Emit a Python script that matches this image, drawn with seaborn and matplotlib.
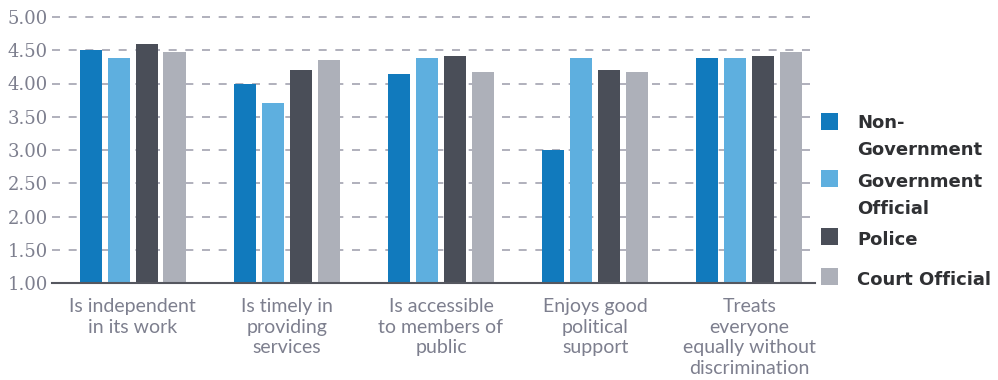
import matplotlib
matplotlib.use("Agg")
import matplotlib.pyplot as plt
import seaborn as sns
import pandas as pd
from matplotlib.patches import Rectangle

categories = [
    "Is independent\nin its work",
    "Is timely in\nproviding\nservices",
    "Is accessible\nto members of\npublic",
    "Enjoys good\npolitical\nsupport",
    "Treats\neveryone\nequally without\ndiscrimination",
]
series = ["Non-Government", "Government Official", "Police", "Court Official"]
legend_labels = ["Non-\nGovernment", "Government\nOfficial", "Police", "Court Official"]

non_government = [4.51, 3.99, 4.14, 3.00, 4.38]
government_official = [4.38, 3.70, 4.38, 4.38, 4.38]
police = [4.60, 4.20, 4.41, 4.20, 4.41]
court_official = [4.48, 4.35, 4.17, 4.17, 4.48]

y_ticks = [1.0, 1.5, 2.0, 2.5, 3.0, 3.5, 4.0, 4.5, 5.0]
y_tick_labels = ["1.00", "1.50", "2.00", "2.50", "3.00", "3.50", "4.00", "4.50", "5.00"]

colors = ["#117abd", "#5eafdf", "#4a4e58", "#adb0b9"]

rows = []
for name, vals in zip(series, [non_government, government_official, police, court_official]):
    for c, v in zip(categories, vals):
        rows.append({"category": c, "series": name, "value": v})
df = pd.DataFrame(rows)

sns.set_theme(style="white")
plt.rcParams["font.family"] = ["DejaVu Sans"]

W, H = 998, 380
fig = plt.figure(figsize=(W / 100, H / 100), dpi=100)
ax_left, ax_right = 52, 815
ax_bottom_px = 283
ymax = 5.05
px_per_unit = 66.5
ax_top_px = ax_bottom_px - (ymax - 1.0) * px_per_unit
ax = fig.add_axes([ax_left / W, 1 - ax_bottom_px / H, (ax_right - ax_left) / W, (ax_bottom_px - ax_top_px) / H])

sns.barplot(data=df, x="category", y="value", hue="series", order=categories,
            hue_order=series, palette=colors, saturation=1, width=0.726, gap=0.214,
            errorbar=None, legend=False, linewidth=0, ax=ax)

ax.set_xlim(-0.522, 4.425)
ax.set_ylim(1.0, ymax)
ax.set_axisbelow(True)
ax.set_yticks(y_ticks)
ax.set_yticklabels(y_tick_labels, family="DejaVu Serif", fontsize=13, color="#7d7f8e")
ax.yaxis.grid(True, color="#a3a3b0", linestyle=(0, (4.8, 5.2)), linewidth=1.2)
ax.xaxis.grid(False)
ax.tick_params(axis="y", length=0, pad=3)
ax.tick_params(axis="x", length=0, pad=11)
for lbl in ax.get_xticklabels():
    lbl.set_family(["Lato", "DejaVu Sans"])
    lbl.set_fontweight("normal")
    lbl.set_fontsize(14)
    lbl.set_color("#7d7f8e")
    lbl.set_linespacing(1.25)
ax.set_xlabel("")
ax.set_ylabel("")
for s in ["top", "right", "left"]:
    ax.spines[s].set_visible(False)
ax.spines["bottom"].set_color("#55575f")
ax.spines["bottom"].set_linewidth(1.5)

# legend (drawn manually in figure pixel coordinates)
sq_tops = [113, 170, 228, 268]
baselines = [128, 187, 245, 285]
for col, lab, top, base in zip(colors, legend_labels, sq_tops, baselines):
    fig.add_artist(Rectangle((821 / W, 1 - (top + 17) / H), 17 / W, 17 / H,
                             transform=fig.transFigure, facecolor=col, edgecolor="none"))
    fig.text(857 / W, 1 - base / H, lab.split("\n")[0], fontsize=13, fontweight="bold",
             color="#2f3033", va="baseline", ha="left")
    if "\n" in lab:
        fig.text(857 / W, 1 - (base + 27) / H, lab.split("\n")[1], fontsize=13,
                 fontweight="bold", color="#2f3033", va="baseline", ha="left")

fig.savefig("out.png", dpi=100)
